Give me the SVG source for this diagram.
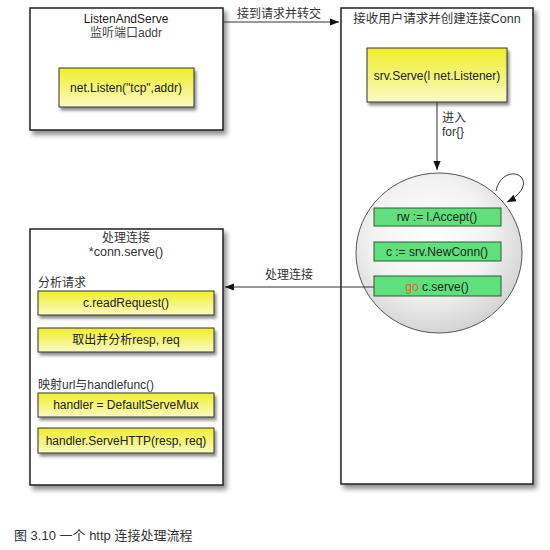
<svg xmlns="http://www.w3.org/2000/svg" width="550" height="550" viewBox="0 0 550 550">
<defs>
<style>
svg{font-family:"Liberation Sans","Noto Sans CJK SC",sans-serif;font-size:12px}
.c{text-anchor:middle}
.box{fill:#fff;stroke:#222;stroke-width:1.5;filter:url(#sh)}
.ybox{fill:url(#yg);stroke:#333;stroke-width:1;filter:url(#sh2)}
.gbox{fill:#5fe07c;stroke:#2c5a33;stroke-width:1}
.line{stroke:#333;stroke-width:1;fill:none}
</style>
<linearGradient id="yg" x1="0" y1="0" x2="0" y2="1">
<stop offset="0" stop-color="#eeee2a"/>
<stop offset="1" stop-color="#fafac4"/>
</linearGradient>
<radialGradient id="cg" cx="0.45" cy="0.4" r="0.6">
<stop offset="0" stop-color="#ffffff"/>
<stop offset="0.6" stop-color="#f2f2f2"/>
<stop offset="1" stop-color="#d4d4d4"/>
</radialGradient>
<filter id="sh" x="-10%" y="-10%" width="130%" height="130%">
<feDropShadow dx="3" dy="4" stdDeviation="2.5" flood-color="#000" flood-opacity="0.45"/>
</filter>
<filter id="sh2" x="-10%" y="-20%" width="130%" height="160%">
<feDropShadow dx="2" dy="3" stdDeviation="1.5" flood-color="#000" flood-opacity="0.45"/>
</filter>
<marker id="ar" viewBox="0 0 10 10" refX="10" refY="5" markerWidth="9" markerHeight="9" markerUnits="userSpaceOnUse" orient="auto">
<path d="M0,1 L10,5 L0,9 Z" fill="#111"/>
</marker>
</defs>
<rect width="550" height="550" fill="#fff"/>

<g id="listenAndServe" fill="#222">
<rect class="box" x="30" y="8" width="193" height="122"/>
<text class="c" x="126" y="23">ListenAndServe</text>
<text class="c" x="126" y="37" fill="#444">监听端口addr</text>
<rect class="ybox" x="59" y="68" width="135" height="39"/>
<text class="c" x="126" y="92">net.Listen("tcp",addr)</text>
</g>

<g id="serveBox" fill="#222">
<rect class="box" x="341" y="8" width="192" height="476"/>
<text class="c" x="437" y="23" font-size="12.5" fill="#333">接收用户请求并创建连接Conn</text>
<rect class="ybox" x="367" y="48" width="140" height="54"/>
<text class="c" x="437" y="80">srv.Serve(l net.Listener)</text>
</g>

<g id="loop" fill="#222">
<ellipse cx="439" cy="253" rx="83" ry="80" fill="url(#cg)" stroke="#555" stroke-width="1"/>
<rect class="gbox" x="374" y="208" width="127" height="18"/>
<text class="c" x="437" y="221">rw := l.Accept()</text>
<rect class="gbox" x="374" y="242" width="127" height="19"/>
<text class="c" x="437" y="256">c := srv.NewConn()</text>
<rect class="gbox" x="374" y="276" width="127" height="20"/>
<text class="c" x="437" y="291"><tspan fill="#e0662a">go</tspan> c.serve()</text>
</g>

<g id="connServe" fill="#222">
<rect class="box" x="30" y="229" width="193" height="256"/>
<text class="c" x="126" y="242" fill="#333">处理连接</text>
<text class="c" x="126" y="256" font-size="12.5" fill="#333">*conn.serve()</text>
<text x="38" y="287" fill="#333">分析请求</text>
<rect class="ybox" x="38" y="291" width="176" height="24"/>
<text class="c" x="126" y="307">c.readRequest()</text>
<rect class="ybox" x="38" y="328" width="176" height="24"/>
<text class="c" x="126" y="344">取出并分析resp, req</text>
<text x="38" y="389" fill="#333">映射url与handlefunc()</text>
<rect class="ybox" x="38" y="393" width="176" height="24"/>
<text class="c" x="126" y="409">handler = DefaultServeMux</text>
<rect class="ybox" x="38" y="428" width="176" height="25"/>
<text class="c" x="126" y="445">handler.ServeHTTP(resp, req)</text>
</g>

<g id="connectors">
<line class="line" x1="223" y1="22" x2="339" y2="22" marker-end="url(#ar)"/>
<text x="237" y="18" fill="#333">接到请求并转交</text>
<line class="line" x1="437" y1="102" x2="437" y2="170" marker-end="url(#ar)"/>
<text x="442" y="122" fill="#333">进入</text>
<text x="442" y="136" fill="#333">for{}</text>
<path class="line" d="M496,191 C499,175 514,170 521,177 C528,185 519,196 507,202" marker-end="url(#ar)"/>
<line class="line" x1="374" y1="287" x2="225" y2="287" marker-end="url(#ar)"/>
<text x="265" y="279" fill="#333">处理连接</text>
</g>

<text x="14" y="540" font-size="13" fill="#333">图 3.10 一个 http 连接处理流程</text>
</svg>
